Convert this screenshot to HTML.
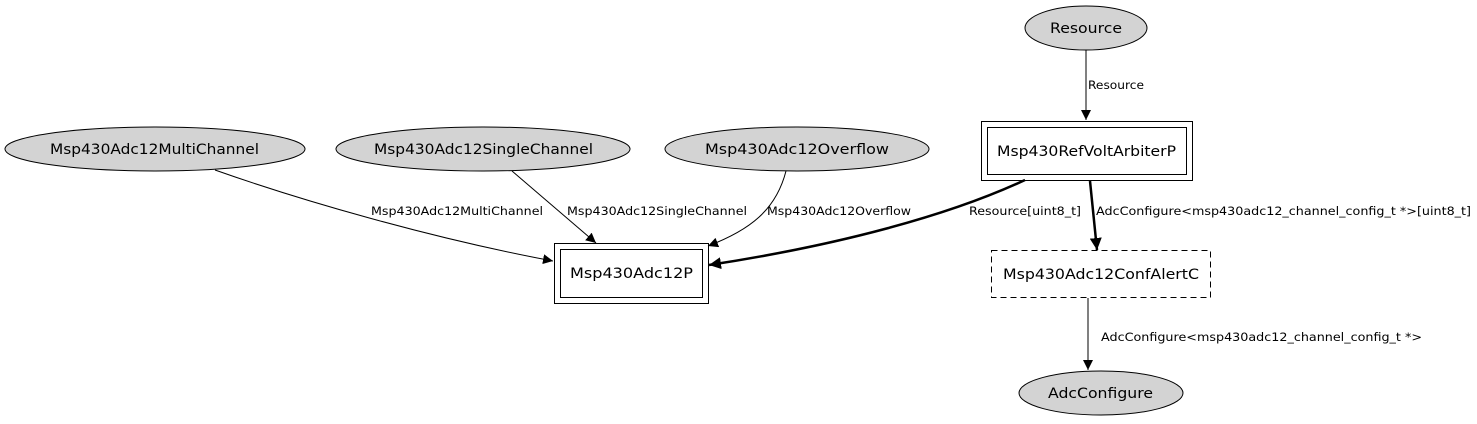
<!DOCTYPE html>
<html><head><meta charset="utf-8"><style>
html,body{margin:0;padding:0;background:#fff;}
svg{display:block;}
.n{font-family:"DejaVu Sans","Liberation Sans",sans-serif;font-size:14.5px;fill:#000;}
.e{font-family:"DejaVu Sans","Liberation Sans",sans-serif;font-size:11.5px;fill:#000;}
</style></head><body>
<svg width="1477" height="424" viewBox="0 0 1477 424" xmlns="http://www.w3.org/2000/svg">
<defs>
<marker id="a" viewBox="0 0 10 10" refX="10" refY="5" markerWidth="10" markerHeight="10" markerUnits="userSpaceOnUse" orient="auto"><path d="M0,0L10,5L0,10z" fill="#000"/></marker>
<marker id="b" viewBox="0 0 10 10" refX="10" refY="5" markerWidth="12" markerHeight="12" markerUnits="userSpaceOnUse" orient="auto"><path d="M0,0L10,5L0,10z" fill="#000"/></marker>
</defs>
<ellipse cx="1086" cy="28" rx="61" ry="22" fill="#d3d3d3" stroke="#000"/>
<text class="n" x="1050" y="33" textLength="72" lengthAdjust="spacingAndGlyphs">Resource</text>
<ellipse cx="155" cy="149" rx="150" ry="22" fill="#d3d3d3" stroke="#000"/>
<text class="n" x="50" y="154" textLength="209" lengthAdjust="spacingAndGlyphs">Msp430Adc12MultiChannel</text>
<ellipse cx="483" cy="149" rx="147" ry="22" fill="#d3d3d3" stroke="#000"/>
<text class="n" x="374" y="154" textLength="219" lengthAdjust="spacingAndGlyphs">Msp430Adc12SingleChannel</text>
<ellipse cx="797" cy="149" rx="132" ry="22" fill="#d3d3d3" stroke="#000"/>
<text class="n" x="705" y="154" textLength="184" lengthAdjust="spacingAndGlyphs">Msp430Adc12Overflow</text>
<rect x="981.5" y="121.5" width="211" height="59" fill="none" stroke="#000"/>
<rect x="987.5" y="127.5" width="199" height="47" fill="none" stroke="#000"/>
<text class="n" x="997" y="156" textLength="179" lengthAdjust="spacingAndGlyphs">Msp430RefVoltArbiterP</text>
<rect x="554.5" y="243.5" width="154" height="60" fill="none" stroke="#000"/>
<rect x="560.5" y="249.5" width="142" height="48" fill="none" stroke="#000"/>
<text class="n" x="570" y="278" textLength="123" lengthAdjust="spacingAndGlyphs">Msp430Adc12P</text>
<rect x="991.5" y="250.5" width="219" height="47" fill="none" stroke="#000" stroke-dasharray="6,4"/>
<text class="n" x="1003" y="279" textLength="196" lengthAdjust="spacingAndGlyphs">Msp430Adc12ConfAlertC</text>
<ellipse cx="1101" cy="393" rx="82" ry="22" fill="#d3d3d3" stroke="#000"/>
<text class="n" x="1048" y="398" textLength="105" lengthAdjust="spacingAndGlyphs">AdcConfigure</text>
<path d="M1086,50L1086,120" fill="none" stroke="#000" marker-end="url(#a)"/>
<text class="e" x="1088" y="89" textLength="56" lengthAdjust="spacingAndGlyphs">Resource</text>
<path d="M215,170C300,200 430,238 553,261" fill="none" stroke="#000" marker-end="url(#a)"/>
<text class="e" x="371" y="215" textLength="172" lengthAdjust="spacingAndGlyphs">Msp430Adc12MultiChannel</text>
<path d="M512,171L596,243" fill="none" stroke="#000" marker-end="url(#a)"/>
<text class="e" x="567" y="215" textLength="180" lengthAdjust="spacingAndGlyphs">Msp430Adc12SingleChannel</text>
<path d="M786,171C776,210 750,230 708,246" fill="none" stroke="#000" marker-end="url(#a)"/>
<text class="e" x="767" y="215" textLength="144" lengthAdjust="spacingAndGlyphs">Msp430Adc12Overflow</text>
<path d="M1025,180C950,215 840,245 709,265" fill="none" stroke="#000" stroke-width="2.5" marker-end="url(#b)"/>
<text class="e" x="969" y="215" textLength="112" lengthAdjust="spacingAndGlyphs">Resource[uint8_t]</text>
<path d="M1090,181L1097,250" fill="none" stroke="#000" stroke-width="2.5" marker-end="url(#b)"/>
<text class="e" x="1096" y="215" textLength="375" lengthAdjust="spacingAndGlyphs">AdcConfigure&lt;msp430adc12_channel_config_t *&gt;[uint8_t]</text>
<path d="M1088,298L1088,370" fill="none" stroke="#000" marker-end="url(#a)"/>
<text class="e" x="1101" y="341" textLength="321" lengthAdjust="spacingAndGlyphs">AdcConfigure&lt;msp430adc12_channel_config_t *&gt;</text>
</svg>
</body></html>
